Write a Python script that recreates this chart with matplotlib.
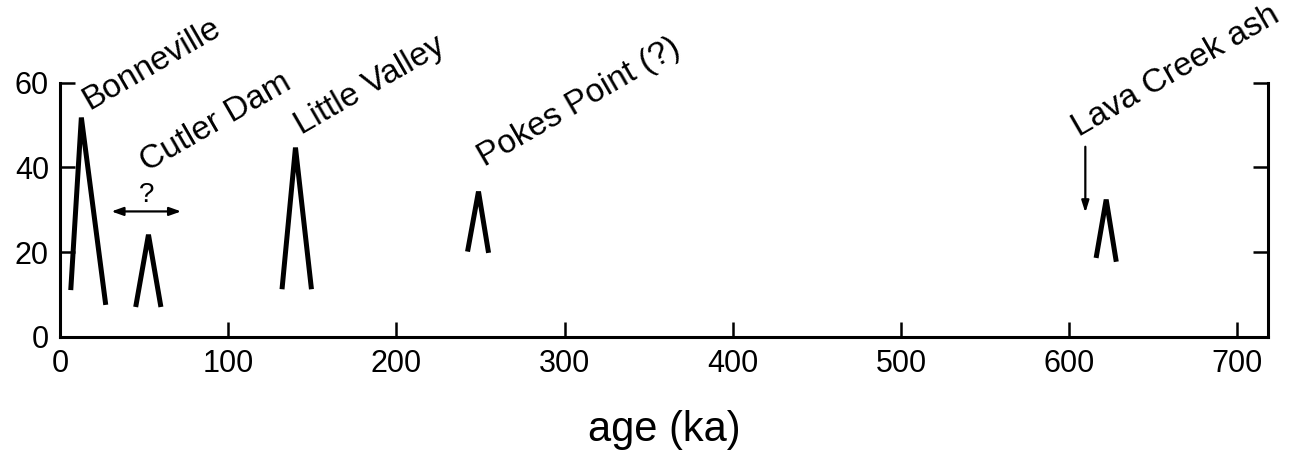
import matplotlib.pyplot as plt

plt.rcParams["font.family"] = ["Liberation Sans", "DejaVu Sans"]

# peaks drawn as open triangles: (age ka, value)
peak_names = ["Bonneville", "Cutler Dam", "Little Valley", "Pokes Point (?)", "Lava Creek ash"]
peak_x = [
    [6.4, 12.7, 27.2],
    [45.0, 52.6, 60.0],
    [132.0, 140.0, 149.5],
    [242.3, 248.8, 254.8],
    [616.0, 622.0, 628.0],
]
peak_y = [
    [11.0, 51.8, 7.5],
    [7.0, 24.1, 7.0],
    [11.2, 44.7, 11.2],
    [20.1, 34.3, 19.8],
    [18.6, 32.4, 17.7],
]
# label anchor points (lower-left of rotated text)
label_x = [17.3, 52.0, 143.6, 252.4, 606.0]
label_y = [53.7, 39.0, 47.8, 40.2, 47.3]

# Cutler Dam age range arrow
cutler_range = [30.6, 72.0]
cutler_arrow_y = 29.6
# Lava Creek ash pointer
lava_arrow_x = 609.6
lava_arrow_y = [44.9, 29.3]

x_ticks = [0, 100, 200, 300, 400, 500, 600, 700]
y_ticks = [0, 20, 40, 60]

fig = plt.figure(figsize=(12.93, 4.63), dpi=100)
ax = fig.add_axes([0.0464, 0.273, 0.934, 0.548])

for xs, ys in zip(peak_x, peak_y):
    ax.plot(xs, ys, color="black", lw=3.6, solid_joinstyle="miter", solid_capstyle="butt")

for name, lx, ly in zip(peak_names, label_x, label_y):
    ax.text(lx, ly, name, rotation=30, rotation_mode="anchor", ha="left",
            va="baseline", fontsize=24, clip_on=False)

ax.annotate("", xy=(cutler_range[0], cutler_arrow_y), xytext=(cutler_range[1], cutler_arrow_y),
            arrowprops=dict(arrowstyle="<|-|>,head_length=0.7,head_width=0.25",
                            color="black", lw=1.6, shrinkA=0, shrinkB=0))
ax.text(sum(cutler_range) / 2, cutler_arrow_y + 0.8, "?", ha="center", va="bottom", fontsize=20)

ax.annotate("", xy=(lava_arrow_x, lava_arrow_y[1]), xytext=(lava_arrow_x, lava_arrow_y[0]),
            arrowprops=dict(arrowstyle="-|>,head_length=0.7,head_width=0.22",
                            color="black", lw=1.6, shrinkA=0, shrinkB=0))

ax.set_xlim(0, 718)
ax.set_ylim(0, 60)
ax.set_xticks(x_ticks)
ax.set_yticks(y_ticks)
ax.spines["top"].set_visible(False)
for s in ["left", "right", "bottom"]:
    ax.spines[s].set_linewidth(2.2)
ax.tick_params(axis="both", direction="in", length=11, width=1.8, labelsize=22, pad=9)
ax.tick_params(axis="y", right=True, labelright=False, pad=8)
ax.set_xlabel("age (ka)", fontsize=30, labelpad=22)

fig.savefig("out.png", dpi=100)
